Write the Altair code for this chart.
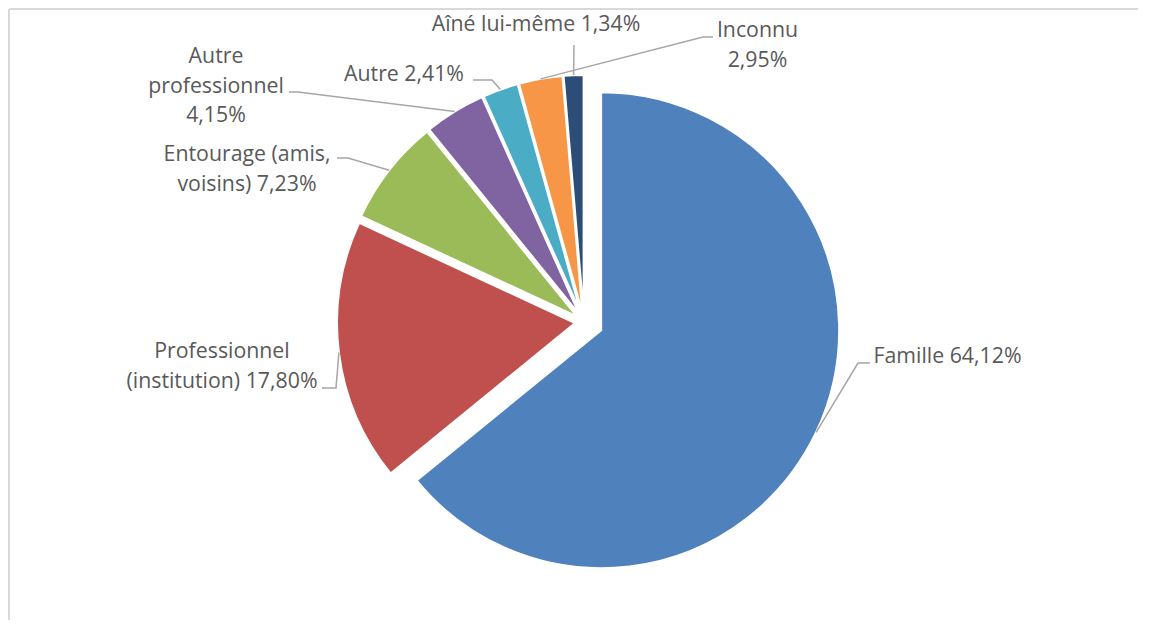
import altair as alt
import pandas as pd
import numpy as np

# ---- data ----
categories = ["Famille", "Professionnel (institution)", "Entourage (amis, voisins)",
              "Autre professionnel", "Autre", "Inconnu", "Aîné lui-même"]
values = [64.12, 17.80, 7.23, 4.15, 2.41, 2.95, 1.34]
label_templates = ["Famille {}", "Professionnel\n(institution) {}", "Entourage (amis,\nvoisins) {}",
                   "Autre\nprofessionnel\n{}", "Autre {}", "Inconnu\n{}", "Aîné lui-même {}"]

# ---- style / layout ----
colors = ["#4F81BD", "#C0504D", "#9BBB59", "#8064A2", "#4BACC6", "#F79646", "#2C4D75"]
W, H = 1130, 612
CX, CY, R = 576, 314, 238
explode = [19, 9, 9, 9, 9, 9, 9]
# label anchors: horizontal centre and centre of the first text line
label_x = [939.5, 214, 239, 208, 396, 749.5, 528]
label_y = [349, 344, 147, 49, 67, 23, 17]
elbow_x = [850, 328, 340, 290, 484, 695, 566]
elbow_y = [355, 380, 150, 84, 72, 29, 37]
end_x = [862, 314, 329, 281, 465, 705, 566]
end_y = [355, 380, 150, 84, 72, 29, 37]
FONT = "Open Sans"
FONT_SIZE = 21.3
LINE_H = 29.5
TEXT_COLOR = "#595959"
LINE_COLOR = "#A6A6A6"

df = pd.DataFrame({"cat": categories, "value": values, "idx": list(range(len(values))),
                   "explode": explode})

# leader lines: start on the slice edge at its mid angle
vals = np.array(values)
cum = np.cumsum(vals)
mid = 2 * np.pi * (cum - vals / 2) / vals.sum()
rows = []
for i, c in enumerate(categories):
    ex = CX + explode[i] * np.sin(mid[i])
    ey = CY - explode[i] * np.cos(mid[i])
    sx = ex + R * np.sin(mid[i])
    sy = ey - R * np.cos(mid[i])
    pts = [(sx, sy), (elbow_x[i], elbow_y[i]), (end_x[i], end_y[i])]
    for k, (px, py) in enumerate(pts):
        rows.append({"cat": c, "k": k, "px": px, "py": py})
lines_df = pd.DataFrame(rows)

labels_df = pd.DataFrame({
    "cat": categories,
    "label": [t.format(f"{v:.2f}".replace(".", ",") + "%") for t, v in zip(label_templates, values)],
    "lx": label_x, "ly": label_y,
})

frame_df = pd.DataFrame({"a": [0]})
frame_top = alt.Chart(frame_df).mark_rule(color="#D9D9D9", strokeWidth=2).encode(
    x=alt.value(1), x2=alt.value(W), y=alt.value(1))
frame_left = alt.Chart(frame_df).mark_rule(color="#D9D9D9", strokeWidth=2).encode(
    x=alt.value(1), y=alt.value(1), y2=alt.value(H))

pie = alt.Chart(df).transform_joinaggregate(
    total="sum(value)"
).transform_window(
    cum="sum(value)", sort=[alt.SortField("idx", order="ascending")]
).transform_calculate(
    mid="2*PI*(datum.cum - datum.value/2)/datum.total"
).transform_calculate(
    cx=f"{CX} + datum.explode*sin(datum.mid)",
    cy=f"{CY} - datum.explode*cos(datum.mid)",
).mark_arc(outerRadius=R, stroke="white", strokeWidth=2).encode(
    theta=alt.Theta("value:Q", stack=True),
    order=alt.Order("idx:Q"),
    color=alt.Color("cat:N", scale=alt.Scale(domain=categories, range=colors), legend=None),
    x=alt.X("cx:Q", scale=None, axis=None),
    y=alt.Y("cy:Q", scale=None, axis=None),
)

leaders = alt.Chart(lines_df).mark_line(color=LINE_COLOR, strokeWidth=1.5).encode(
    x=alt.X("px:Q", scale=None, axis=None),
    y=alt.Y("py:Q", scale=None, axis=None),
    detail="cat:N",
    order="k:Q",
)

labels = alt.Chart(labels_df).mark_text(
    align="center", baseline="middle", font=FONT, fontSize=FONT_SIZE,
    lineHeight=LINE_H, lineBreak="\n", color=TEXT_COLOR
).encode(
    x=alt.X("lx:Q", scale=None, axis=None),
    y=alt.Y("ly:Q", scale=None, axis=None),
    text="label:N",
)

chart = alt.layer(frame_top, frame_left, pie, leaders, labels).properties(
    width=W, height=H, padding=0, autosize=alt.AutoSizeParams(type="none")
).configure_view(stroke=None)

chart.save("out.html", embed_options={"renderer": "svg", "actions": False})
